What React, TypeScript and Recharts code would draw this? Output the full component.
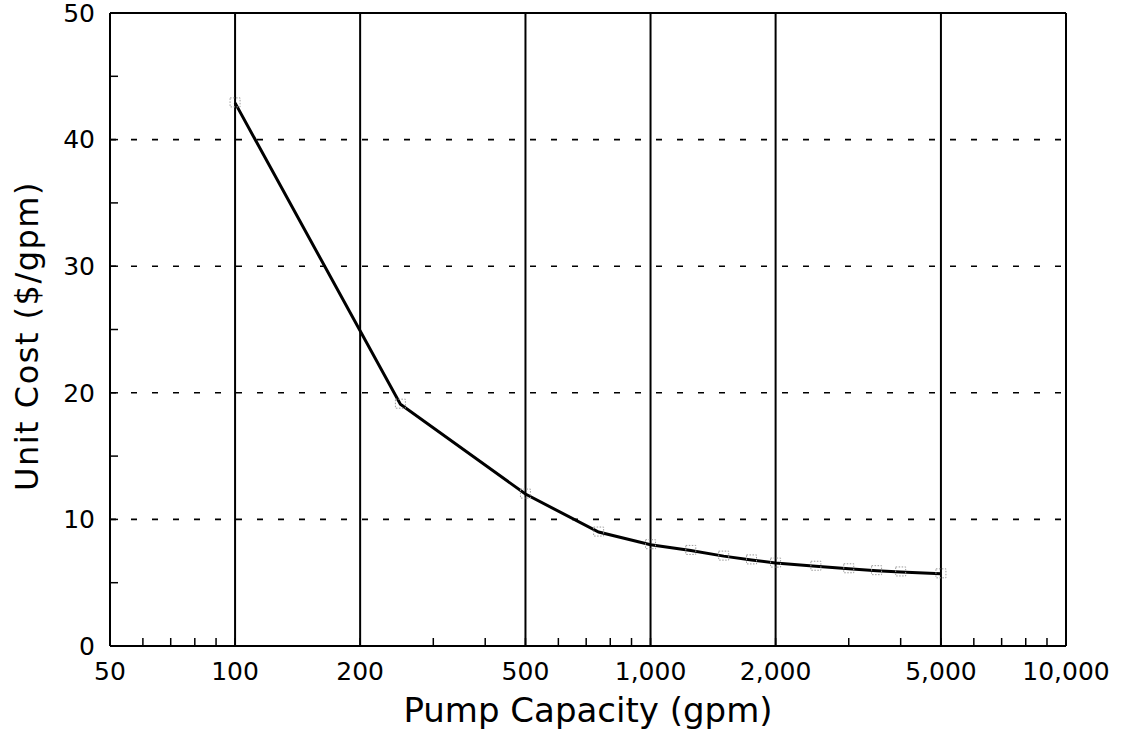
import React from "react";
import { LineChart, Line, XAxis, YAxis, ReferenceLine } from "recharts";

const capacity = [100, 250, 500, 750, 1000, 1250, 1500, 1750, 2000, 2500, 3000, 3500, 4000, 5000];
const unitCost = [42.9, 19.1, 12.0, 9.0, 8.0, 7.55, 7.1, 6.8, 6.55, 6.3, 6.1, 5.95, 5.85, 5.7];

const xMajorTicks = [50, 100, 200, 500, 1000, 2000, 5000, 10000];
const xMinorTicks = [60, 70, 80, 90, 300, 400, 600, 700, 800, 900, 3000, 4000, 6000, 7000, 8000, 9000];
const xGridLines = [100, 200, 500, 1000, 2000, 5000];
const yTicks = [0, 5, 10, 15, 20, 25, 30, 35, 40, 45, 50];
const yGridLines = [10, 20, 30, 40];

const data = capacity.map((gpm, i) => ({ gpm, cost: unitCost[i] }));
const xAllTicks = [...xMajorTicks, ...xMinorTicks].sort((a, b) => a - b);

const FONT = "'DejaVu Sans', 'Liberation Sans', Arial, sans-serif";

const fmtX = (v: number) => (xMajorTicks.includes(v) ? v.toLocaleString("en-US") : "");
const fmtY = (v: number) => (v % 10 === 0 ? String(v) : "");

const SquareDot = (props: any) => {
  const { cx, cy, index } = props;
  if (cx == null || cy == null) return null;
  return (
    <rect
      key={`d${index}`}
      x={cx - 5}
      y={cy - 5}
      width={10}
      height={9}
      fill="none"
      stroke="#9a9a9a"
      strokeWidth={1}
      strokeDasharray="1.5 1.5"
    />
  );
};

const YTitle = () => (
  <text
    x={27}
    y={336}
    transform="rotate(-90, 27, 336)"
    textAnchor="middle"
    dominantBaseline="central"
    fontFamily={FONT}
    fontSize={32}
    letterSpacing={1.5}
    fill="#000"
  >
    Unit Cost ($/gpm)
  </text>
);

export default function App() {
  return (
    <div style={{ position: "absolute", left: 0, top: 0, width: 1121, height: 738, background: "#fff" }}>
      <LineChart
        width={1121}
        height={738}
        data={data}
        margin={{ top: 13, right: 55, bottom: 0, left: 0 }}
      >
        <XAxis
          dataKey="gpm"
          type="number"
          scale="log"
          domain={[50, 10000]}
          ticks={xAllTicks}
          interval={0}
          tickFormatter={fmtX}
          tickSize={-8}
          tickMargin={24}
          height={92}
          axisLine={{ stroke: "#000", strokeWidth: 2 }}
          tickLine={{ stroke: "#000", strokeWidth: 1.5 }}
          tick={{ fill: "#000", fontSize: 25, fontFamily: FONT }}
          label={{
            value: "Pump Capacity (gpm)",
            position: "insideBottom",
            offset: 16,
            fill: "#000",
            fontSize: 34,
            fontFamily: FONT,
          }}
        />
        <YAxis
          type="number"
          domain={[0, 50]}
          ticks={yTicks}
          interval={0}
          tickFormatter={fmtY}
          tickSize={-8}
          tickMargin={23}
          width={110}
          axisLine={{ stroke: "#000", strokeWidth: 2 }}
          tickLine={{ stroke: "#000", strokeWidth: 1.5 }}
          tick={{ fill: "#000", fontSize: 25, fontFamily: FONT }}
          label={<YTitle />}
        />
        {yGridLines.map((v) => (
          <ReferenceLine key={`h${v}`} y={v} stroke="#000" strokeWidth={1.6} strokeDasharray="6 15" />
        ))}
        {xGridLines.map((v) => (
          <ReferenceLine key={`v${v}`} x={v} stroke="#000" strokeWidth={2} />
        ))}
        <ReferenceLine y={50} stroke="#000" strokeWidth={2} />
        <ReferenceLine x={10000} stroke="#000" strokeWidth={2} />
        <Line
          dataKey="cost"
          type="linear"
          stroke="#000"
          strokeWidth={3}
          dot={<SquareDot />}
          activeDot={false}
          isAnimationActive={false}
        />
      </LineChart>
    </div>
  );
}
